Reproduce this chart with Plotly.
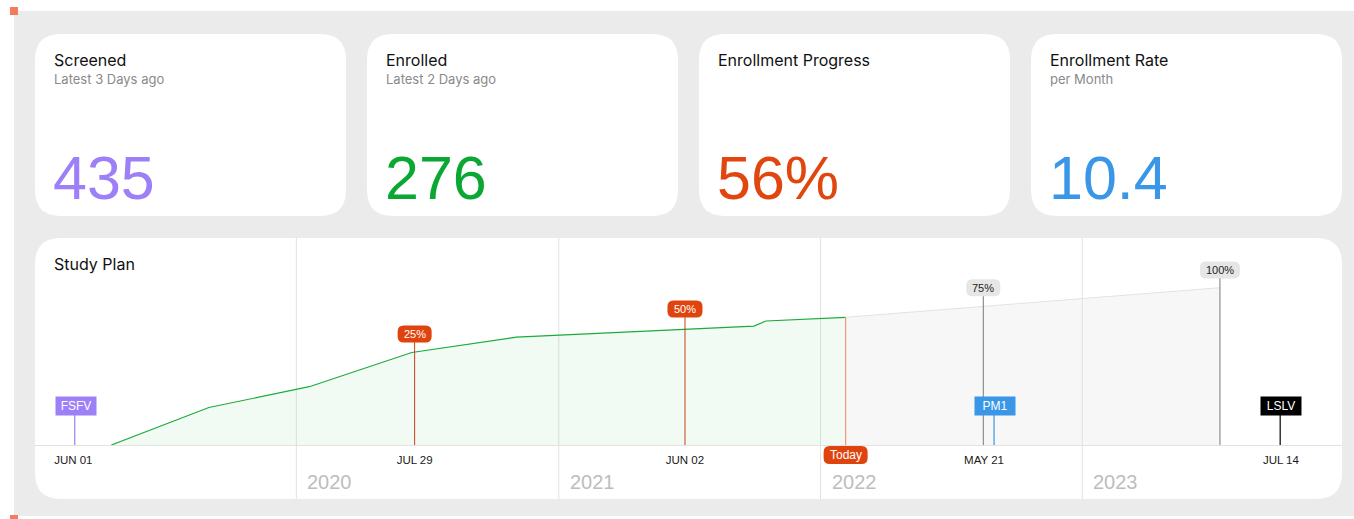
import plotly.graph_objects as go

W, H = 1354, 519

# ---------------- data ----------------
kpi_titles = ["Screened", "Enrolled", "Enrollment Progress", "Enrollment Rate"]
kpi_subtitles = ["Latest 3 Days ago", "Latest 2 Days ago", "", "per Month"]
kpi_values = ["435", "276", "56%", "10.4"]
kpi_colors = ["#9d80f7", "#0aa833", "#e1460f", "#3a96e6"]

progress_dates = ["2019-04-18", "2019-09-01", "2020-01-19", "2020-06-10",
                  "2020-11-03", "2021-09-30", "2021-10-17", "2022-02-05"]
progress_values = [0, 81, 126, 200, 233, 257, 268, 276]

projection_dates = ["2022-02-05", "2023-07-12"]
projection_values = [276, 340]

pct_labels = ["25%", "50%", "75%", "100%"]
pct_dates = ["2020-06-14", "2021-06-26", "2022-08-16", "2023-07-12"]
pct_values = [240, 294, 340, 378]

milestone_labels = ["FSFV", "PM1", "LSLV"]
milestone_dates = ["2019-02-26", "2022-08-31", "2023-10-04"]
milestone_values = [85, 85, 85]

today_label = "Today"
today_date = "2022-02-05"
today_value = 276

tick_dates = ["2019-02-24", "2020-06-14", "2021-06-26", "2022-08-17", "2023-10-05"]
tick_labels = ["JUN 01", "JUL 29", "JUN 02", "MAY 21", "JUL 14"]

year_labels = ["2020", "2021", "2022", "2023"]
year_dates = ["2020-01-01", "2021-01-01", "2022-01-01", "2023-01-01"]

# ---------------- styles ----------------
BG = "#ebebeb"
ORANGE = "#f47c5c"
RED = "#e0440e"
GRID = "#e2e2e2"
SANS = "Inter, Noto Sans, sans-serif"
NUM = "Liberation Sans, Arial, sans-serif"


def px(x):
    return x / W


def py(y):
    return 1 - y / H


def rounded_paper_path(x0, y0, x1, y1, r):
    def P(x, y):
        return f"{px(x):.6f},{py(y):.6f}"
    return (f"M {P(x0 + r, y0)} L {P(x1 - r, y0)} Q {P(x1, y0)} {P(x1, y0 + r)} "
            f"L {P(x1, y1 - r)} Q {P(x1, y1)} {P(x1 - r, y1)} "
            f"L {P(x0 + r, y1)} Q {P(x0, y1)} {P(x0, y1 - r)} "
            f"L {P(x0, y0 + r)} Q {P(x0, y0)} {P(x0 + r, y0)} Z")


def rounded_pixel_path(w, h, r):
    a, b = w / 2, h / 2
    return (f"M {-a + r},{-b} L {a - r},{-b} Q {a},{-b} {a},{-b + r} "
            f"L {a},{b - r} Q {a},{b} {a - r},{b} L {-a + r},{b} Q {-a},{b} {-a},{b - r} "
            f"L {-a},{-b + r} Q {-a},{-b} {-a + r},{-b} Z")


fig = go.Figure()

# green actual enrollment
fig.add_trace(go.Scatter(
    x=progress_dates, y=progress_values, mode="lines",
    line=dict(color="#1bab3b", width=1.2),
    fill="tozeroy", fillcolor="rgba(20,160,50,0.055)",
    hoverinfo="skip", showlegend=False))

# projection
fig.add_trace(go.Scatter(
    x=projection_dates, y=projection_values, mode="lines",
    line=dict(color="#e3e3e3", width=1),
    fill="tozeroy", fillcolor="rgba(225,225,225,0.28)",
    hoverinfo="skip", showlegend=False))

shapes = []
# background panel
shapes.append(dict(type="rect", xref="paper", yref="paper", x0=px(14), x1=1.0,
                   y0=py(516), y1=py(11), fillcolor=BG, line_width=0, layer="below"))
# orange corner marks
shapes.append(dict(type="rect", xref="paper", yref="paper", x0=px(10), x1=px(18),
                   y0=py(15), y1=py(7), fillcolor=ORANGE, line_width=0, layer="below"))
shapes.append(dict(type="rect", xref="paper", yref="paper", x0=px(10), x1=px(18),
                   y0=py(519), y1=py(515), fillcolor=ORANGE, line_width=0, layer="below"))
# cards
card_x = [(35, 346), (367, 678), (699, 1010), (1031, 1342)]
for (a, b) in card_x:
    shapes.append(dict(type="path", xref="paper", yref="paper",
                       path=rounded_paper_path(a, 34, b, 216, 26),
                       fillcolor="white", line_width=0, layer="below"))
shapes.append(dict(type="path", xref="paper", yref="paper",
                   path=rounded_paper_path(35, 238, 1342, 499, 26),
                   fillcolor="white", line_width=0, layer="below"))
# year grid lines
for d in year_dates:
    shapes.append(dict(type="line", xref="x", yref="paper", x0=d, x1=d,
                       y0=py(499), y1=py(238), line=dict(color=GRID, width=1),
                       layer="below"))

# percentage marker lines
pct_line_colors = ["#c4401b", "#c4401b", "#7a7a7a", "#7a7a7a"]
for d, v, c in zip(pct_dates, pct_values, pct_line_colors):
    shapes.append(dict(type="line", xref="x", yref="y", x0=d, x1=d, y0=0, y1=v,
                       line=dict(color=c, width=1)))
# milestone lines
ms_colors = ["#9d80f7", "#3a96e6", "#000000"]
for d, v, c in zip(milestone_dates, milestone_values, ms_colors):
    shapes.append(dict(type="line", xref="x", yref="y", x0=d, x1=d, y0=0, y1=v,
                       line=dict(color=c, width=1.2)))
# today line
shapes.append(dict(type="line", xref="x", yref="y", x0=today_date, x1=today_date,
                   y0=0, y1=today_value, line=dict(color="#f5957c", width=1.2)))

# rounded percentage boxes
pct_box_w = [34, 35, 34, 40]
pct_box_fill = [RED, RED, "#e6e6e6", "#e6e6e6"]
for d, v, w, f in zip(pct_dates, pct_values, pct_box_w, pct_box_fill):
    shapes.append(dict(type="path", xref="x", yref="y", xsizemode="pixel",
                       ysizemode="pixel", xanchor=d, yanchor=v,
                       path=rounded_pixel_path(w, 17, 6), fillcolor=f, line_width=0))
# today box
shapes.append(dict(type="path", xref="x", yref="paper", xsizemode="pixel",
                   ysizemode="pixel", xanchor=today_date, yanchor=py(455),
                   path=rounded_pixel_path(44, 18, 6), fillcolor=RED, line_width=0))

annotations = []


def ann(text, x, y, size, color, family=SANS, xanchor="left", xref="paper", yref="paper", **kw):
    d = dict(text=text, x=x, y=y, xref=xref, yref=yref, xanchor=xanchor, yanchor="middle",
             showarrow=False, font=dict(size=size, color=color, family=family))
    d.update(kw)
    annotations.append(d)


for (a, b), t, s, v, c in zip(card_x, kpi_titles, kpi_subtitles, kpi_values, kpi_colors):
    ann(t, px(a + 17), py(60), 16, "#111111")
    if s:
        ann(s, px(a + 17), py(79), 13, "#8a8a8a")
    ann(v, px(a + 16), py(178), 61, c, family=NUM)

ann("Study Plan", px(52), py(264), 16, "#111111")

for t, d in zip(year_labels, year_dates):
    ann(t, d, py(482), 20, "#bdbdbd", family=NUM, xref="x", xshift=9)

pct_text_colors = ["white", "white", "#222222", "#222222"]
for t, d, v, c in zip(pct_labels, pct_dates, pct_values, pct_text_colors):
    ann(t, d, v, 11, c, family=NUM, xanchor="center", xref="x", yref="y")

for t, d, v, c in zip(milestone_labels, milestone_dates, milestone_values, ms_colors):
    ann(t, d, v, 12, "white", family=NUM, xanchor="center", xref="x", yref="y",
        bgcolor=c, width=40, height=18, borderpad=0, xshift=1)

ann(today_label, today_date, py(455), 12, "white", family=NUM, xanchor="center", xref="x")

fig.update_layout(
    width=W, height=H,
    margin=dict(l=0, r=0, t=0, b=0),
    paper_bgcolor="white", plot_bgcolor="rgba(0,0,0,0)",
    shapes=shapes, annotations=annotations,
    showlegend=False,
    xaxis=dict(type="date", domain=[px(35), px(1342)],
               range=["2019-01-01 14:00", "2023-12-29 05:00"],
               tickvals=tick_dates, ticktext=tick_labels,
               tickfont=dict(size=11.5, color="#1a1a1a", family=NUM),
               ticklabelstandoff=4,
               showgrid=False, zeroline=False, showline=True,
               linecolor=GRID, linewidth=1, ticks="", fixedrange=True),
    yaxis=dict(domain=[py(445), py(238)], range=[0, 447.4], visible=False,
               showgrid=False, zeroline=False, fixedrange=True),
)

fig.write_html("out.html", config={"displayModeBar": False},
               post_script="document.body.style.margin='0';document.body.style.padding='0';")
